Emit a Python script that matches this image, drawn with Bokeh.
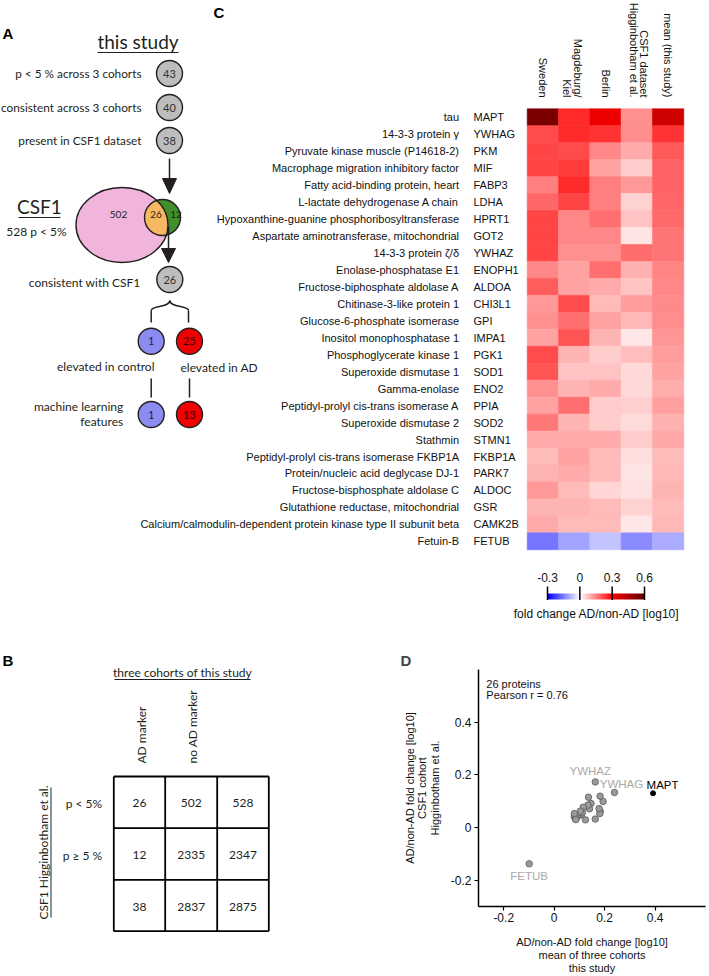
import numpy as np
from bokeh.plotting import figure
from bokeh.models import Range1d, LinearColorMapper, ColumnDataSource, FixedTicker
from bokeh.layouts import column, row
from bokeh.transform import transform
from bokeh.core.properties import value
from bokeh.embed import file_html
from bokeh.resources import INLINE

# ---------------- data ----------------
protein_names = [
    "tau", "14-3-3 protein \u03b3", "Pyruvate kinase muscle (P14618-2)",
    "Macrophage migration inhibitory factor", "Fatty acid-binding protein, heart",
    "L-lactate dehydrogenase A chain", "Hypoxanthine-guanine phosphoribosyltransferase",
    "Aspartate aminotransferase, mitochondrial", "14-3-3 protein \u03b6/\u03b4",
    "Enolase-phosphatase E1", "Fructose-biphosphate aldolase A", "Chitinase-3-like protein 1",
    "Glucose-6-phosphate isomerase", "Inositol monophosphatase 1", "Phosphoglycerate kinase 1",
    "Superoxide dismutase 1", "Gamma-enolase", "Peptidyl-prolyl cis-trans isomerase A",
    "Superoxide dismutase 2", "Stathmin", "Peptidyl-prolyl cis-trans isomerase FKBP1A",
    "Protein/nucleic acid deglycase DJ-1", "Fructose-bisphosphate aldolase C",
    "Glutathione reductase, mitochondrial",
    "Calcium/calmodulin-dependent protein kinase type II subunit beta", "Fetuin-B",
]
genes = ["MAPT", "YWHAG", "PKM", "MIF", "FABP3", "LDHA", "HPRT1", "GOT2", "YWHAZ",
         "ENOPH1", "ALDOA", "CHI3L1", "GPI", "IMPA1", "PGK1", "SOD1", "ENO2", "PPIA",
         "SOD2", "STMN1", "FKBP1A", "PARK7", "ALDOC", "GSR", "CAMK2B", "FETUB"]
sweden = [0.55, 0.21, 0.22, 0.22, 0.15, 0.18, 0.22, 0.22, 0.22, 0.14, 0.19, 0.12, 0.13,
          0.11, 0.21, 0.20, 0.13, 0.11, 0.16, 0.10, 0.08, 0.09, 0.12, 0.09, 0.10, -0.16]
magdeburg_kiel = [0.25, 0.25, 0.21, 0.23, 0.25, 0.22, 0.14, 0.14, 0.13, 0.11, 0.11, 0.21, 0.17,
                  0.20, 0.09, 0.07, 0.09, 0.17, 0.09, 0.10, 0.11, 0.10, 0.08, 0.09, 0.08, -0.11]
berlin = [0.33, 0.24, 0.14, 0.11, 0.15, 0.15, 0.17, 0.14, 0.13, 0.17, 0.10, 0.08, 0.11,
          0.09, 0.06, 0.07, 0.10, 0.06, 0.06, 0.10, 0.08, 0.08, 0.05, 0.08, 0.08, -0.07]
csf1_higginbotham = [0.130, 0.133, 0.099, 0.061, 0.119, 0.053, 0.072, 0.032, 0.173, 0.091,
                     0.071, 0.115, 0.085, 0.029, 0.077, 0.048, 0.048, 0.057, 0.042, 0.062,
                     0.041, 0.032, 0.036, 0.053, 0.030, -0.138]
mean_this_study = [0.392, 0.239, 0.194, 0.183, 0.182, 0.181, 0.178, 0.163, 0.163, 0.146,
                   0.140, 0.136, 0.134, 0.124, 0.115, 0.108, 0.097, 0.112, 0.092, 0.104,
                   0.080, 0.084, 0.088, 0.080, 0.086, -0.099]
heatmap_columns = [["Sweden"], ["Magdeburg/", "Kiel"], ["Berlin"],
                   ["CSF1 dataset", "Higginbotham et al."], ["mean (this study)"]]
colorbar_ticks = [-0.3, 0, 0.3, 0.6]
colorbar_labels = ["-0.3", "0", "0.3", "0.6"]
colorbar_title = "fold change AD/non-AD [log10]"

# panel A
flow_labels = ["p < 5 % across 3 cohorts", "consistent across 3 cohorts", "present in CSF1 dataset"]
flow_counts = [43, 40, 38]
csf1_significant = 528
venn_csf1_only = 502
venn_overlap = 26
venn_study_only = 12
consistent_count = 26
elevated_counts = [1, 25]
ml_counts = [1, 13]

# panel B
table_row_labels = ["p < 5%", "p \u2265 5 %"]
table_col_labels = ["AD marker", "no AD marker"]
table_values = [[26, 502, 528], [12, 2335, 2347], [38, 2837, 2875]]

# panel D
scatter_ticks = [-0.2, 0, 0.2, 0.4]
scatter_tick_labels = ["-0.2", "0", "0.2", "0.4"]
pearson_r = 0.76
labelled_genes = ["YWHAZ", "YWHAG", "MAPT", "FETUB"]

# ---------------- style ----------------
INK = "#231f20"
LATO = value("Lato")
ARIAL = value("Liberation Sans")
GREY_FILL = "#bdbdbd"
BLUE_FILL = "#8c8cf0"
RED_FILL = "#f00000"


def ramp_palette(n=256):
    stops = [(-0.3, (0, 0, 255)), (0.0, (255, 255, 255)), (0.3, (255, 0, 0)), (0.6, (96, 0, 0))]
    out = []
    for v in np.linspace(-0.3, 0.6, n):
        for (v0, c0), (v1, c1) in zip(stops[:-1], stops[1:]):
            if v <= v1 + 1e-12:
                t = (v - v0) / (v1 - v0)
                c = [int(round(a + (b - a) * t)) for a, b in zip(c0, c1)]
                break
        out.append("#%02x%02x%02x" % tuple(c))
    return out


cmap = LinearColorMapper(palette=ramp_palette(), low=-0.3, high=0.6)


def lin_range(px_a, px_b, v_a, v_b, px_start, px_end):
    k = (v_b - v_a) / (px_b - px_a)
    return Range1d(start=v_a + (px_start - px_a) * k, end=v_a + (px_end - px_a) * k)


def txt(fig, x, y, texts, size, font=LATO, align="left", baseline="middle", color=INK,
        style="normal", angle=0, **kw):
    return fig.text(x=x, y=y, text=texts, text_font=font, text_font_size=f"{size}px",
                    text_align=align, text_baseline=baseline, text_color=color,
                    text_font_style=style, angle=angle, **kw)


def bare(fig):
    fig.grid.visible = False
    fig.outline_line_color = None
    fig.background_fill_color = None
    fig.border_fill_color = "white"
    fig.frame_align = False


# ---------------- top figure (panels A and C) ----------------
TOP_H = 640
top = figure(width=709, height=TOP_H, x_range=Range1d(0, 709), y_range=Range1d(TOP_H, 0),
             x_axis_location=None, y_axis_location=None, output_backend="svg",
             toolbar_location=None, min_border=0)
bare(top)
ncol, nrow = 5, len(genes)
top.extra_x_ranges = {"hx": lin_range(526.7, 683.3, 0, ncol, 0, 709),
                      "cx": lin_range(547.0, 644.0, -0.3, 0.6, 0, 709)}
top.extra_y_ranges = {"hy": lin_range(108.3, 549.3, 0, nrow, TOP_H, 0)}

# ----- panel A -----
txt(top, [2], [33], ["A"], 15, font=ARIAL, style="bold", color="black")
txt(top, [137.5], [41], ["this study"], 19, align="center")
top.segment(x0=97, y0=52, x1=178, y1=52, line_color=INK, line_width=1.2)
flow_y = [73, 107, 140]
txt(top, 141, flow_y, flow_labels, 11.8, align="right")
top.ellipse(x=169, y=flow_y, width=26, height=26, fill_color=GREY_FILL, line_color=INK, line_width=1.4)
txt(top, 169, flow_y, [str(c) for c in flow_counts], 11, align="center", color="#333333")

# arrow down into venn
top.segment(x0=169, y0=158, x1=169, y1=181, line_color=INK, line_width=1.5)
top.patch(x=[162, 176, 169], y=[178, 178, 193], fill_color=INK, line_color=INK)

# venn
ecx, ecy, ea, eb = 121.5, 224.5, 46.0, 37.5
scx, scy, sr = 162.0, 217.0, 18.0
top.ellipse(x=ecx, y=ecy, width=2 * ea, height=2 * eb, fill_color="#f1b5dc", line_color=None)
top.ellipse(x=scx, y=scy, width=2 * sr, height=2 * sr, fill_color="#3f8f2b", line_color=None)
tt = np.linspace(0, 2 * np.pi, 720)
cpx, cpy = scx + sr * np.cos(tt), scy + sr * np.sin(tt)
inside_e = ((cpx - ecx) / ea) ** 2 + ((cpy - ecy) / eb) ** 2 <= 1
epx, epy = ecx + ea * np.cos(tt), ecy + eb * np.sin(tt)
inside_c = (epx - scx) ** 2 + (epy - scy) ** 2 <= sr ** 2
ix = np.concatenate([cpx[inside_e], epx[inside_c]])
iy = np.concatenate([cpy[inside_e], epy[inside_c]])
order = np.argsort(np.arctan2(iy - scy, ix - (scx - 6)))
top.patch(x=ix[order], y=iy[order], fill_color="#f8b862", line_color=None)
top.ellipse(x=ecx, y=ecy, width=2 * ea, height=2 * eb, fill_color=None, line_color=INK, line_width=1.4)
top.ellipse(x=scx, y=scy, width=2 * sr, height=2 * sr, fill_color=None, line_color=INK, line_width=1.4)
txt(top, [118, 155.5, 175.5], [214, 214, 214],
    [str(venn_csf1_only), str(venn_overlap), str(venn_study_only)], 10, align="center")
txt(top, [39], [206], ["CSF1"], 19, align="center")
top.segment(x0=18, y0=217, x1=60, y1=217, line_color=INK, line_width=1.2)
txt(top, [36], [231], [f"{csf1_significant} p < 5%"], 12, align="center")

# arrow down out of venn
top.segment(x0=168, y0=226, x1=168, y1=250, line_color=INK, line_width=1.5)
top.patch(x=[161, 175, 168], y=[248, 248, 262], fill_color=INK, line_color=INK)

txt(top, [140], [281.5], ["consistent with CSF1"], 12, align="right")
top.ellipse(x=169.3, y=279, width=26, height=26, fill_color=GREY_FILL, line_color=INK, line_width=1.4)
txt(top, [169.3], [279], [str(consistent_count)], 11, align="center", color="#333333")

# curly brace
bx = [150.7, 188.0]
top.segment(x0=bx, y0=[322, 322], x1=bx, y1=[310, 310], line_color=INK, line_width=1.5)
top.bezier(x0=bx, y0=[310, 310], x1=[169.3, 169.3], y1=[300, 300],
           cx0=bx, cy0=[305, 305], cx1=[169.3, 169.3], cy1=[307, 307], line_color=INK, line_width=1.5)

branch_x = [150.7, 189.0]
fills = [BLUE_FILL, RED_FILL]
num_cols = ["#222244", "#3a0000"]
top.ellipse(x=branch_x, y=[340.7, 340.7], width=26, height=26, fill_color=fills, line_color=INK, line_width=1.4)
txt(top, branch_x, [340.7, 340.7], [str(c) for c in elevated_counts], 11, align="center", color=num_cols)
txt(top, [154], [366], ["elevated in control"], 12, align="right")
txt(top, [180], [367], ["elevated in AD"], 12, align="left")
top.segment(x0=branch_x, y0=[378, 378], x1=branch_x, y1=[397, 397], line_color=INK, line_width=1.5)
top.ellipse(x=branch_x, y=[414, 414], width=26, height=26, fill_color=fills, line_color=INK, line_width=1.4)
txt(top, branch_x, [414, 414], [str(c) for c in ml_counts], 11, align="center", color=num_cols)
txt(top, [122.7, 122.7], [406, 421], ["machine learning", "features"], 12, align="right")

# ----- panel C -----
txt(top, [213], [12], ["C"], 15, font=ARIAL, style="bold", color="black")
hm = {"x": [], "y": [], "v": []}
series = [sweden, magdeburg_kiel, berlin, csf1_higginbotham, mean_this_study]
for ci, ser in enumerate(series):
    for ri, v in enumerate(ser):
        hm["x"].append(ci + 0.5)
        hm["y"].append(ri + 0.5)
        hm["v"].append(v)
hsrc = ColumnDataSource(hm)
top.rect(x="x", y="y", width=1, height=1, source=hsrc, fill_color=transform("v", cmap),
         line_color=transform("v", cmap), line_width=0.6, x_range_name="hx", y_range_name="hy")

# column headers (rotated)
hx_list, hoff, htxt = [], [], []
line_offsets = {1: [3.5, -7.0], 3: [6.8, -3.2]}
for ci, lines in enumerate(heatmap_columns):
    offs = line_offsets.get(ci, [0.0])
    for li, ln in enumerate(lines):
        hx_list.append(ci + 0.5)
        hoff.append(offs[li])
        htxt.append(ln)
txt(top, hx_list, [97] * len(htxt), htxt, 11, font=ARIAL, align="right", color="#111111",
    angle=-np.pi / 2, x_offset=hoff, x_range_name="hx")

row_y = [r + 0.5 for r in range(nrow)]
txt(top, 458.5, row_y, protein_names, 11, font=ARIAL, align="right", color="#111111", y_range_name="hy")
txt(top, 473, row_y, genes, 11, font=ARIAL, align="left", color="#111111", y_range_name="hy")

# colour bar
ramp = np.linspace(cmap.low, cmap.high, 300).reshape(1, -1)
top.image(image=[ramp], x=cmap.low, y=593, dw=cmap.high - cmap.low, dh=6, color_mapper=cmap,
          x_range_name="cx")
top.segment(x0=colorbar_ticks, y0=586, x1=colorbar_ticks, y1=599.5, line_color="black",
            line_width=1.5, x_range_name="cx")
txt(top, colorbar_ticks, 577, colorbar_labels, 12, font=ARIAL, align="center", color="#111111",
    x_range_name="cx")
txt(top, [596], [613], [colorbar_title], 12, font=ARIAL, align="center", color="#111111")

# ---------------- panel B ----------------
fb = figure(width=400, height=336, x_range=Range1d(0, 400), y_range=Range1d(976, TOP_H),
            x_axis_location=None, y_axis_location=None, output_backend="svg",
            toolbar_location=None, min_border=0)
bare(fb)
txt(fb, [2], [660], ["B"], 15, font=ARIAL, style="bold", color="black")
txt(fb, [182], [672], ["three cohorts of this study"], 12, align="center")
fb.segment(x0=114, y0=679, x1=250, y1=679, line_color=INK, line_width=1.0)
grid_x = [113.3, 164.7, 216.7, 268.3]
grid_y = [776.0, 827.7, 879.3, 930.7]
fb.segment(x0=grid_x, y0=grid_y[0], x1=grid_x, y1=grid_y[-1], line_color="black", line_width=1.8)
fb.segment(x0=grid_x[0], y0=grid_y, x1=grid_x[-1], y1=grid_y, line_color="black", line_width=1.8)
cell_x, cell_y, cell_t = [], [], []
for ri, rvals in enumerate(table_values):
    for ci, v in enumerate(rvals):
        cell_x.append((grid_x[ci] + grid_x[ci + 1]) / 2)
        cell_y.append((grid_y[ri] + grid_y[ri + 1]) / 2 + 1)
        cell_t.append(str(v))
txt(fb, cell_x, cell_y, cell_t, 12, align="center")
txt(fb, 101.7, [(grid_y[i] + grid_y[i + 1]) / 2 + 1 for i in range(2)], table_row_labels, 12, align="right")
txt(fb, [(grid_x[i] + grid_x[i + 1]) / 2 + 1.5 for i in range(2)], 763, table_col_labels, 12,
    align="left", angle=np.pi / 2)
txt(fb, [43], [852], ["CSF1 Higginbotham et al."], 12, align="center", angle=np.pi / 2)
fb.segment(x0=50.5, y0=787, x1=50.5, y1=917, line_color=INK, line_width=1.0)

# ---------------- panel D ----------------
fd = figure(width=309, height=336, x_range=Range1d(-0.3, 0.6), y_range=Range1d(-0.3, 0.6),
            output_backend="svg", toolbar_location=None, title="D",
            min_border_left=68, min_border_right=4, min_border_top=29, min_border_bottom=69)
bare(fd)
fd.title.text_font = "Liberation Sans"
fd.title.text_font_size = "15px"
fd.title.text_font_style = "bold"
fd.title.align = "left"
fd.title.offset = -78
fd.title.standoff = 2
for ax in (fd.xaxis[0], fd.yaxis[0]):
    ax.ticker = FixedTicker(ticks=scatter_ticks)
    ax.major_label_overrides = dict(zip(scatter_ticks, scatter_tick_labels))
    ax.axis_line_color = "black"
    ax.axis_line_width = 1.5
    ax.major_tick_line_color = "black"
    ax.major_tick_line_width = 1.2
    ax.major_tick_in = 0
    ax.major_tick_out = 4
    ax.minor_tick_line_color = None
    ax.major_label_text_font = "Liberation Sans"
    ax.major_label_text_font_size = "12px"
    ax.major_label_text_color = "#111111"
    ax.axis_label_text_font = "Liberation Sans"
    ax.axis_label_text_font_size = "11px"
    ax.axis_label_text_font_style = "normal"
    ax.axis_label_text_color = "#111111"
fd.xaxis.major_label_standoff = 2
fd.yaxis.major_label_standoff = 3
fd.xaxis.axis_label_standoff = 11
fd.yaxis.axis_label_standoff = 7
fd.xaxis.axis_label_text_line_height = 1.1
fd.yaxis.axis_label_text_line_height = 1.05
fd.xaxis.axis_label = "AD/non-AD fold change [log10]\nmean of three cohorts\nthis study"
fd.yaxis.axis_label = "AD/non-AD fold change [log10]\nCSF1 cohort\nHigginbotham et al."

others = [i for i, g in enumerate(genes) if g != "MAPT"]
mi = genes.index("MAPT")
fd.scatter(x=[mean_this_study[i] for i in others], y=[csf1_higginbotham[i] for i in others],
           size=6.5, fill_color="#9a9a9a", line_color="#5a5a5a", line_width=0.8)
fd.scatter(x=[mean_this_study[mi]], y=[csf1_higginbotham[mi]], size=5, fill_color="black", line_color="black")

lab_dx = {"YWHAZ": -5, "YWHAG": 7, "MAPT": 9.5, "FETUB": 0}
lab_dy = {"YWHAZ": -11, "YWHAG": -8, "MAPT": -8.5, "FETUB": 12}
lab_col = {"YWHAZ": "#a9a9a9", "YWHAG": "#a9a9a9", "MAPT": "black", "FETUB": "#a9a9a9"}
li = [genes.index(g) for g in labelled_genes]
txt(fd, [mean_this_study[i] for i in li], [csf1_higginbotham[i] for i in li], labelled_genes, 11.5,
    font=ARIAL, align="center", color=[lab_col[g] for g in labelled_genes],
    x_offset=[lab_dx[g] for g in labelled_genes], y_offset=[lab_dy[g] for g in labelled_genes])
txt(fd, -0.269, [0.545, 0.503], [f"{len(genes)} proteins", f"Pearson r = {pearson_r}"], 11,
    font=ARIAL, align="left", color="#111111")

layout = column(top, row(fb, fd))
open("out.html", "w").write(file_html(layout, INLINE))
